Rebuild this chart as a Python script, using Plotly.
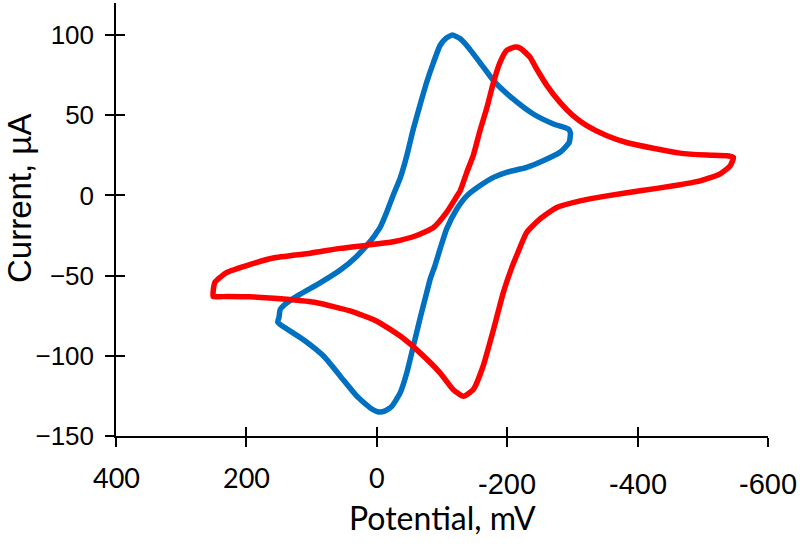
import plotly.graph_objects as go

# Blue CV loop (potential mV, current uA)
blue_E = [150, 148, 138, 118, 87, 56, 31, 15, 5, 0, -5, -15, -25, -36, -46, -56, -66, -76.5, -87, -97,
          -106, -116, -127, -138, -158, -179, -209, -240, -271, -294, -297,
          -295, -281, -255, -230, -199, -179, -158, -138, -122.5, -107, -97, -89, -82, -76.5, -66, -56,
          -46, -36, -23, -12, -3, 10, 31, 56, 82, 113, 148.5, 152, 150]
blue_I = [-76, -71, -67, -61.7, -54.5, -46.5, -38, -31, -26, -23, -20, -10.6, 0, 11, 24.8, 41.4, 56, 70.6, 83, 93.5,
          98, 100, 98, 93.5, 83, 71.6, 60.2, 50.8, 44.6, 41.4, 39,
          33, 26.9, 21.6, 17.5, 14.4, 11.25, 6, -0.25, -8.6, -21, -33.5, -44, -52, -60.6, -77.3, -94,
          -110.6, -123, -131.5, -134.5, -135, -132.5, -125, -112.7, -100, -89.8, -80.4, -79, -76]

# Red CV loop
red_E = [251, 230, 194.5, 138, 92, 41, 0, -36, -66, -97, -117, -133, -148, -163, -179, -194, -207, -215,
         -230, -250, -276, -312, -353, -404, -455, -496, -526, -542, -547,
         -537, -506, -465, -424, -383, -353, -322, -301, -281, -261, -245, -235, -220, -212, -199, -189,
         -179, -169, -158, -148, -138, -128, -122, -107, -87, -61, -25, 15, 56, 102, 159, 194, 230, 248, 251, 251]
red_I = [-63, -63, -63.2, -64.8, -66.9, -72, -78.4, -87.7, -98, -110.6, -121, -125.2, -121, -106.5, -83.6, -60.6, -45, -37,
         -23, -14.8, -7.5, -3.4, -0.25, 2.9, 6, 9.1, 13.3, 18.5, 23.75,
         24.75, 25.2, 26.4, 29.4, 33, 37.2, 43.5, 49.75, 58, 68.5, 79, 86.2, 91.8, 92.5, 90.4, 83,
         70.6, 55, 40, 25, 14.4, 3, -1, -10.6, -20, -25, -28.9, -31, -33, -36, -39, -43, -48, -54, -60, -63]

x_pos_ticks = [400, 200, 0]
x_neg_ticks = [-200, -400, -600]
y_ticks = [-150, -100, -50, 0, 50, 100]

fig = go.Figure()
fig.add_trace(go.Scatter(x=blue_E, y=blue_I, mode="lines",
                         line=dict(color="#0070C0", width=5.5, shape="spline", smoothing=0.5),
                         showlegend=False))
fig.add_trace(go.Scatter(x=red_E, y=red_I, mode="lines",
                         line=dict(color="#FF0000", width=5.5, shape="spline", smoothing=0.5),
                         showlegend=False))
# empty traces on overlay axes for crossing ticks
fig.add_trace(go.Scatter(x=[], y=[], xaxis="x2", yaxis="y", showlegend=False))
fig.add_trace(go.Scatter(x=[], y=[], xaxis="x", yaxis="y2", showlegend=False))

all_x = x_pos_ticks + x_neg_ticks
fig.update_layout(
    width=800, height=551,
    margin=dict(l=116, r=32, t=3, b=115, autoexpand=False),
    paper_bgcolor="white", plot_bgcolor="white",
    xaxis=dict(range=[400, -600], tickvals=all_x, showticklabels=False,
               ticks="outside", ticklen=9, tickwidth=1.5, tickcolor="black",
               showline=True, linecolor="black", linewidth=1.5,
               showgrid=False, zeroline=False),
    xaxis2=dict(range=[400, -600], overlaying="x", anchor="y", side="bottom",
                tickvals=all_x, showticklabels=False,
                ticks="inside", ticklen=9, tickwidth=1.5, tickcolor="black",
                showline=False, showgrid=False, zeroline=False),
    yaxis=dict(range=[-150, 120], tickvals=y_ticks,
               ticks="outside", ticklen=9, tickwidth=1.5, tickcolor="black",
               ticklabelstandoff=6,
               tickfont=dict(family="Liberation Sans, Arial", size=26, color="black"),
               showline=True, linecolor="black", linewidth=1.5,
               showgrid=False, zeroline=False),
    yaxis2=dict(range=[-150, 120], overlaying="y", anchor="x", side="left",
                tickvals=y_ticks, showticklabels=False,
                ticks="inside", ticklen=9, tickwidth=1.5, tickcolor="black",
                showline=False, showgrid=False, zeroline=False),
)

ann = []
for v in x_pos_ticks:
    ann.append(dict(x=v, xref="x", y=0, yref="paper", yshift=-41, yanchor="middle",
                    text=str(v), showarrow=False,
                    font=dict(family="Lato, Noto Sans", size=27, color="black")))
for v in x_neg_ticks:
    ann.append(dict(x=v, xref="x", y=0, yref="paper", yshift=-48, yanchor="middle",
                    text=str(v), showarrow=False,
                    font=dict(family="Liberation Sans, Arial", size=29, color="black")))
ann.append(dict(x=0.5, xref="paper", y=0, yref="paper", yshift=-81, yanchor="middle",
                text="Potential, mV", showarrow=False,
                font=dict(family="Lato, Noto Sans", size=32, color="black")))
ann.append(dict(x=0, xref="paper", xshift=-96, y=(436 - 199) / 433, yref="paper",
                xanchor="center", yanchor="middle", textangle=-90,
                text="Current, µA", showarrow=False,
                font=dict(family="Liberation Sans, Arial", size=33, color="black")))
fig.update_layout(annotations=ann)

fig.write_html("out.html", config={"displayModeBar": False},
               post_script="document.body.style.margin='0';document.body.style.padding='0';")
